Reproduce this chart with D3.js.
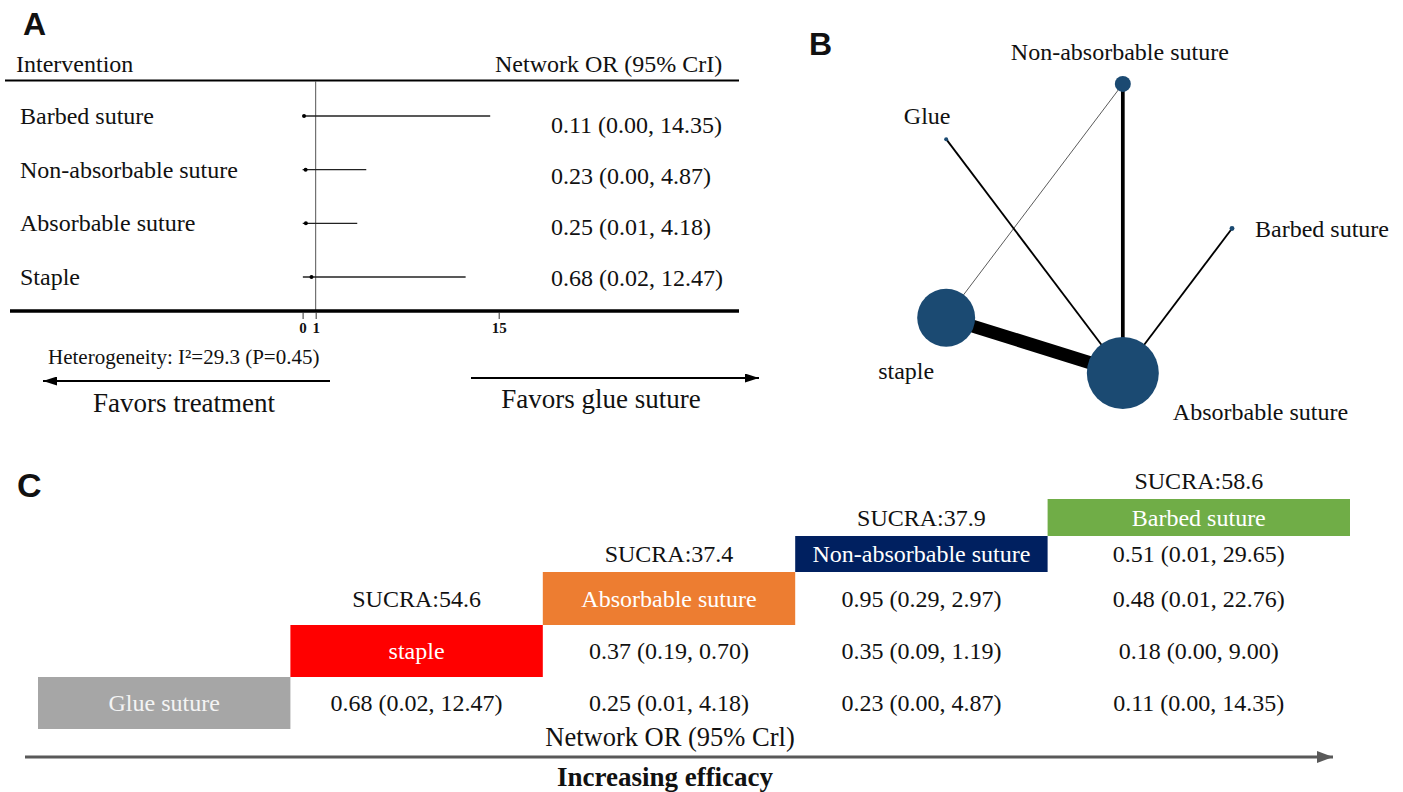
<!DOCTYPE html>
<html>
<head>
<meta charset="utf-8">
<script src="https://cdn.jsdelivr.net/npm/d3@7"></script>
<style>
  body { margin: 0; background: #fff; }
  svg text { font-family: "Liberation Serif", "Times New Roman", serif; fill: #111; }
  .panel { font-family: "Liberation Sans", Arial, sans-serif !important; font-weight: bold; }
</style>
</head>
<body>
<div id="chart"></div>
<script>
const width = 1403;
const height = 792;

// ----- panel A: forest plot data -----
const forestLabels = ["Barbed suture", "Non-absorbable suture", "Absorbable suture", "Staple"];
const forestOR = [0.11, 0.23, 0.25, 0.68];
const forestLow = [0.00, 0.00, 0.01, 0.02];
const forestHigh = [14.35, 4.87, 4.18, 12.47];
const forestTicks = [0, 1, 15];

// ----- panel B: network data -----
const nodeNames = ["Barbed suture", "Absorbable suture", "staple", "Glue", "Non-absorbable suture"];
const nodeWeight = [6, 1296, 840, 4, 64];
const edgeFrom = ["staple", "Non-absorbable suture", "Glue", "Barbed suture", "staple"];
const edgeTo = ["Absorbable suture", "Absorbable suture", "Absorbable suture", "Absorbable suture", "Non-absorbable suture"];
const edgeStudies = [7, 2, 1, 1, 0.35];

// ----- panel C: ranking / league table data -----
const rankNames = ["Glue suture", "staple", "Absorbable suture", "Non-absorbable suture", "Barbed suture"];
const sucra = [null, 54.6, 37.4, 37.9, 58.6];
// leagueOR[r][c]: row r (lower treatment) vs column c (c > r)
const leagueOR = [
  [0.68, 0.25, 0.23, 0.11],
  [0.37, 0.35, 0.18],
  [0.95, 0.48],
  [0.51]
];
const leagueLow = [
  [0.02, 0.01, 0.00, 0.00],
  [0.19, 0.09, 0.00],
  [0.29, 0.01],
  [0.01]
];
const leagueHigh = [
  [12.47, 4.18, 4.87, 14.35],
  [0.70, 1.19, 9.00],
  [2.97, 22.76],
  [29.65]
];

const f2 = d3.format(".2f");
const ciText = (o, l, h) => `${f2(o)} (${f2(l)}, ${f2(h)})`;

const svg = d3.select("#chart").append("svg")
  .attr("width", width)
  .attr("height", height);

const defs = svg.append("defs");
function arrowMarker(id, color, w, h) {
  defs.append("marker")
    .attr("id", id)
    .attr("markerUnits", "userSpaceOnUse")
    .attr("viewBox", `0 0 ${w} ${h}`)
    .attr("refX", w)
    .attr("refY", h / 2)
    .attr("markerWidth", w)
    .attr("markerHeight", h)
    .attr("orient", "auto")
    .append("path")
    .attr("d", `M0,0L${w},${h / 2}L0,${h}Z`)
    .attr("fill", color);
}
arrowMarker("arrA", "#000", 14, 9);
arrowMarker("arrC", "#595959", 16, 12);

// panel letters
svg.append("text").attr("class", "panel").attr("x", 23).attr("y", 35)
  .style("font-size", "32px").text("A");
svg.append("text").attr("class", "panel").attr("x", 809).attr("y", 55)
  .style("font-size", "32px").text("B");
svg.append("text").attr("class", "panel").attr("x", 17).attr("y", 497)
  .style("font-size", "34px").text("C");

// ================= PANEL A =================
const gA = svg.append("g");
const x = d3.scaleLinear().domain([0, 15]).range([302.6, 498.7]);
const yRow = d3.scalePoint().domain(forestLabels).range([116, 277]);
const yVal = d3.scalePoint().domain(forestLabels).range([125, 278]);

gA.append("text").attr("x", 16).attr("y", 64).attr("dominant-baseline", "central")
  .style("font-size", "24px").text("Intervention");
gA.append("text").attr("x", 495).attr("y", 64).attr("dominant-baseline", "central")
  .style("font-size", "24px").text("Network OR (95% CrI)");
gA.append("line").attr("x1", 5).attr("x2", 739).attr("y1", 80.5).attr("y2", 80.5)
  .attr("stroke", "#000").attr("stroke-width", 2);

// reference line at OR = 1
gA.append("line").attr("x1", x(1)).attr("x2", x(1)).attr("y1", 81).attr("y2", 311)
  .attr("stroke", "#555").attr("stroke-width", 1);

forestLabels.forEach((lab, i) => {
  gA.append("text").attr("x", 20).attr("y", yRow(lab)).attr("dominant-baseline", "central")
    .style("font-size", "24px").text(lab);
  gA.append("line")
    .attr("x1", x(forestLow[i])).attr("x2", x(forestHigh[i]))
    .attr("y1", yRow(lab)).attr("y2", yRow(lab))
    .attr("stroke", "#222").attr("stroke-width", 1.3);
  gA.append("circle").attr("cx", x(forestOR[i])).attr("cy", yRow(lab)).attr("r", 2)
    .attr("fill", "#000");
  gA.append("text").attr("x", 551).attr("y", yVal(lab)).attr("dominant-baseline", "central")
    .style("font-size", "24px").text(ciText(forestOR[i], forestLow[i], forestHigh[i]));
});

// bottom axis
gA.append("line").attr("x1", 10).attr("x2", 739).attr("y1", 311).attr("y2", 311)
  .attr("stroke", "#000").attr("stroke-width", 3.5);
const axisA = gA.append("g").attr("transform", "translate(0,312)")
  .call(d3.axisBottom(x).tickValues(forestTicks).tickSize(7).tickPadding(3).tickFormat(d3.format("d")));
axisA.select(".domain").remove();
axisA.selectAll(".tick line").attr("stroke", "#333");
axisA.selectAll(".tick text")
  .style("font-family", "Liberation Serif").style("font-weight", "bold").style("font-size", "15px")
  .attr("fill", "#111");

gA.append("text").attr("x", 48).attr("y", 357).attr("dominant-baseline", "central")
  .style("font-size", "21px").text("Heterogeneity: I²=29.3 (P=0.45)");
gA.append("line").attr("x1", 330).attr("x2", 43).attr("y1", 381).attr("y2", 381)
  .attr("stroke", "#000").attr("stroke-width", 2).attr("marker-end", "url(#arrA)");
gA.append("text").attr("x", 184).attr("y", 403).attr("text-anchor", "middle")
  .attr("dominant-baseline", "central").style("font-size", "27px").text("Favors treatment");
gA.append("line").attr("x1", 471).attr("x2", 759).attr("y1", 378).attr("y2", 378)
  .attr("stroke", "#000").attr("stroke-width", 2).attr("marker-end", "url(#arrA)");
gA.append("text").attr("x", 601).attr("y", 399).attr("text-anchor", "middle")
  .attr("dominant-baseline", "central").style("font-size", "27px").text("Favors glue suture");

// ================= PANEL B =================
const gB = svg.append("g");
// circular layout, one node every 72 degrees
const angle = d3.scalePoint().domain(nodeNames).range([0, 2 * Math.PI * 4 / 5]);
const cx = 1074, cy = 228.5, rx = 158, ry = 152;
const pos = {};
nodeNames.forEach(n => {
  pos[n] = [cx + rx * Math.cos(angle(n)), cy + ry * Math.sin(angle(n))];
});
const rScale = d3.scaleSqrt().domain([0, 1296]).range([0, 36]);
const wScale = d3.scaleLinear().domain([0, 7]).range([0, 13]);

edgeFrom.forEach((s, i) => {
  gB.append("line")
    .attr("x1", pos[s][0]).attr("y1", pos[s][1])
    .attr("x2", pos[edgeTo[i]][0]).attr("y2", pos[edgeTo[i]][1])
    .attr("stroke", "#000").attr("stroke-width", wScale(edgeStudies[i]));
});
nodeNames.forEach((n, i) => {
  gB.append("circle").attr("cx", pos[n][0]).attr("cy", pos[n][1])
    .attr("r", rScale(nodeWeight[i])).attr("fill", "#1b4a72");
});

const nodeLabelOffset = {
  "Non-absorbable suture": [-3, -32, "middle"],
  "Glue": [-19, -23, "middle"],
  "Barbed suture": [23, 0, "start"],
  "staple": [-12, 53, "end"],
  "Absorbable suture": [50, 39, "start"]
};
nodeNames.forEach(n => {
  const o = nodeLabelOffset[n];
  gB.append("text").attr("x", pos[n][0] + o[0]).attr("y", pos[n][1] + o[1])
    .attr("text-anchor", o[2]).attr("dominant-baseline", "central")
    .style("font-size", "24px").text(n);
});

// ================= PANEL C =================
const gC = svg.append("g");
const boxColors = ["#a6a6a6", "#ff0000", "#ed7d31", "#002060", "#70ad47"];
const boxText = ["#f4f4f4", "#fff", "#fff", "#fff", "#fff"];
const col = d3.scaleBand().domain(rankNames).range([38, 1300]);
const colRight = (i) => (i === rankNames.length - 1 ? 1350 : col(rankNames[i]) + col.bandwidth());
const colMid = (i) => (col(rankNames[i]) + colRight(i)) / 2;

// grid rows from bottom up: row i holds treatment i's box
const rowHeights = [52, 52, 53, 36, 37, 37];
const rowBottom = [729];
rowHeights.forEach((h, i) => rowBottom.push(rowBottom[i] - h));
const rowTop = (i) => rowBottom[i + 1];
const rowMid = (i) => (rowBottom[i] + rowBottom[i + 1]) / 2;

rankNames.forEach((n, i) => {
  gC.append("rect")
    .attr("x", col(n)).attr("y", rowTop(i))
    .attr("width", colRight(i) - col(n)).attr("height", rowHeights[i])
    .attr("fill", boxColors[i]);
  gC.append("text").attr("x", colMid(i)).attr("y", rowMid(i))
    .attr("text-anchor", "middle").attr("dominant-baseline", "central")
    .style("font-size", "24px").style("fill", boxText[i]).text(n);
  if (sucra[i] !== null) {
    gC.append("text").attr("x", colMid(i)).attr("y", rowMid(i + 1))
      .attr("text-anchor", "middle").attr("dominant-baseline", "central")
      .style("font-size", "24px").text(`SUCRA:${sucra[i]}`);
  }
});

leagueOR.forEach((row, r) => {
  row.forEach((v, k) => {
    const c = r + 1 + k;
    gC.append("text").attr("x", colMid(c)).attr("y", rowMid(r))
      .attr("text-anchor", "middle").attr("dominant-baseline", "central")
      .style("font-size", "24px").text(ciText(v, leagueLow[r][k], leagueHigh[r][k]));
  });
});

gC.append("text").attr("x", 670).attr("y", 737).attr("text-anchor", "middle")
  .attr("dominant-baseline", "central").style("font-size", "26.5px").text("Network OR (95% Crl)");
gC.append("line").attr("x1", 25).attr("x2", 1333).attr("y1", 757).attr("y2", 757)
  .attr("stroke", "#595959").attr("stroke-width", 3).attr("marker-end", "url(#arrC)");
gC.append("text").attr("x", 665).attr("y", 777).attr("text-anchor", "middle")
  .attr("dominant-baseline", "central").style("font-size", "27px").style("font-weight", "bold")
  .text("Increasing efficacy");
</script>
</body>
</html>
